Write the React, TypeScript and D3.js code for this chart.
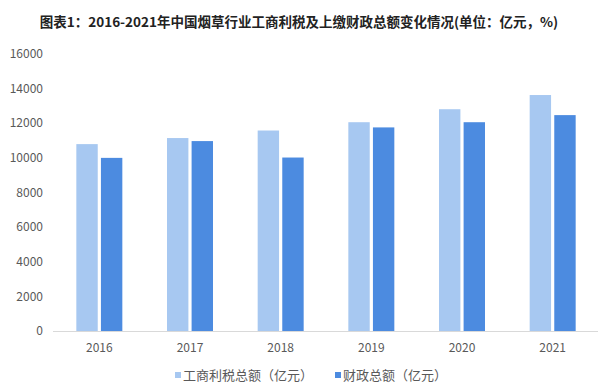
import React, { useEffect, useRef } from 'react';
import * as d3 from 'd3';

// 年份 / 两组数值（亿元）
const years = ['2016', '2017', '2018', '2019', '2020', '2021'];
const taxProfit = [10795, 11145, 11580, 12060, 12810, 13630];
const fiscal = [10000, 10970, 10020, 11760, 12060, 12470];
const yTicks = [0, 2000, 4000, 6000, 8000, 10000, 12000, 14000, 16000];
const seriesNames = ['工商利税总额（亿元）', '财政总额（亿元）'];

const title = '图表1：2016-2021年中国烟草行业工商利税及上缴财政总额变化情况(单位：亿元，%)';

const App = () => {
  const svgRef = useRef<SVGSVGElement>(null);

  useEffect(() => {
    const svg = d3.select(svgRef.current);
    const width = 600;
    const height = 385;
    const margin = { top: 54, right: 2, bottom: 54, left: 54 };
    const font = '"Noto Sans CJK SC", "Noto Sans", sans-serif';
    const colors = ['#a7c8f1', '#4c8be0'];

    svg.attr('width', width).attr('height', height);

    const x = d3
      .scaleBand()
      .domain(years)
      .range([margin.left, width - margin.right]);

    const inner = d3.scaleBand().domain(['0', '1']).range([0, 46]).paddingInner(0.13);

    const y = d3
      .scaleLinear()
      .domain([0, 16000])
      .range([height - margin.bottom, margin.top]);

    // title
    svg
      .append('text')
      .attr('x', 299)
      .attr('y', 27)
      .attr('text-anchor', 'middle')
      .style('font-family', font)
      .style('font-weight', 'bold')
      .style('font-size', '13.5px')
      .style('fill', '#222')
      .text(title);

    // y axis labels
    svg
      .append('g')
      .selectAll('text')
      .data(yTicks)
      .enter()
      .append('text')
      .attr('x', 43)
      .attr('y', d => y(d))
      .attr('dy', '0.35em')
      .attr('text-anchor', 'end')
      .style('font-family', font)
      .style('font-size', '12px')
      .style('fill', '#595959')
      .text(d => d);

    // bars
    const series = [taxProfit, fiscal];
    series.forEach((vals, si) => {
      svg
        .append('g')
        .selectAll('rect')
        .data(years)
        .enter()
        .append('rect')
        .attr('x', (d) => (x(d) as number) + x.bandwidth() / 2 - 23 + (inner(String(si)) as number))
        .attr('y', (d, i) => y(vals[i]))
        .attr('width', inner.bandwidth())
        .attr('height', (d, i) => y(0) - y(vals[i]))
        .attr('fill', colors[si]);
    });

    // baseline
    svg
      .append('line')
      .attr('x1', margin.left - 1)
      .attr('x2', width - margin.right)
      .attr('y1', y(0) + 0.5)
      .attr('y2', y(0) + 0.5)
      .attr('stroke', '#d9d9d9')
      .attr('stroke-width', 1);

    // x labels
    svg
      .append('g')
      .selectAll('text')
      .data(years)
      .enter()
      .append('text')
      .attr('x', d => (x(d) as number) + x.bandwidth() / 2)
      .attr('y', 352)
      .attr('text-anchor', 'middle')
      .style('font-family', font)
      .style('font-size', '12px')
      .style('fill', '#595959')
      .text(d => d);

    // legend
    const legendX = [175, 335];
    const legend = svg
      .selectAll('.legend')
      .data(seriesNames)
      .enter()
      .append('g')
      .attr('class', 'legend')
      .attr('transform', (d, i) => `translate(${legendX[i]},375)`);

    legend
      .append('rect')
      .attr('x', 0)
      .attr('y', -3)
      .attr('width', 6)
      .attr('height', 6)
      .style('fill', (d, i) => colors[i]);

    legend
      .append('text')
      .attr('x', 8)
      .attr('y', 0)
      .attr('dy', '0.35em')
      .text(d => d)
      .style('font-family', font)
      .style('font-size', '13px')
      .style('fill', '#595959');

    return () => {
      svg.selectAll('*').remove();
    };
  }, []);

  return (
    <svg ref={svgRef} style={{ position: 'absolute', left: 0, top: 0, background: '#fff' }}></svg>
  );
};

export default App;
